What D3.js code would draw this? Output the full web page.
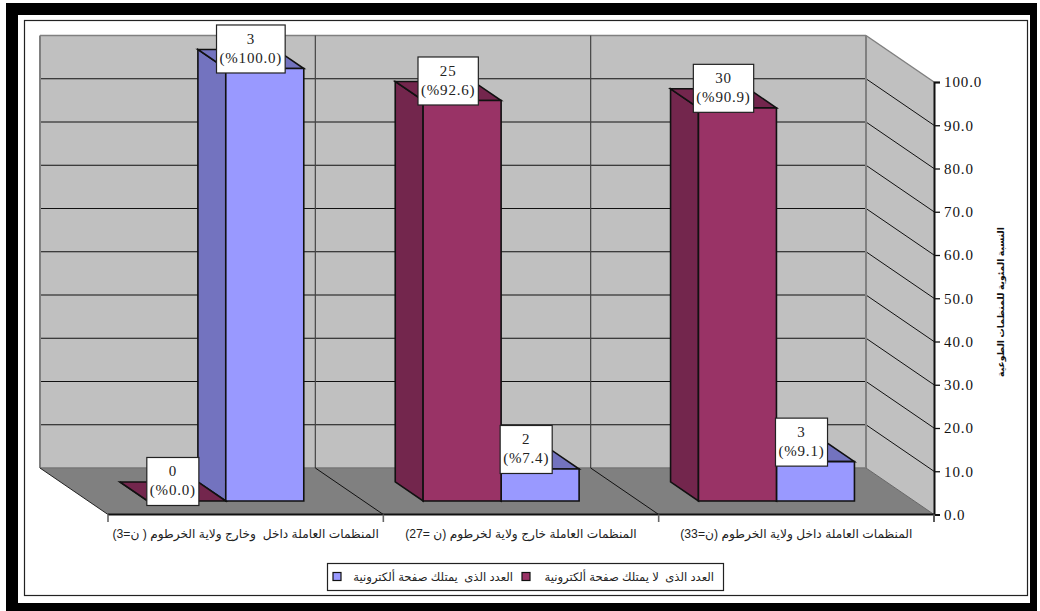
<!DOCTYPE html>
<html><head><meta charset="utf-8">
<script src="https://cdnjs.cloudflare.com/ajax/libs/d3/7.8.5/d3.min.js"></script>
<style>html,body{margin:0;padding:0;background:#fff;overflow:hidden}svg{display:block}.ar{white-space:pre}</style>
</head><body><svg id="c" width="1040" height="611"></svg>
<script>
const categories = ["المنظمات العاملة داخل  وخارج ولاية الخرطوم ( ن=3)","المنظمات العاملة خارج ولاية لخرطوم (ن =27)","المنظمات العاملة داخل ولاية الخرطوم (ن=33)"];
const seriesNames = ["العدد الذى  لا يمتلك صفحة ألكترونية","العدد الذى  يمتلك صفحة ألكترونية"];
const notOwningCount = [0,25,30];
const notOwningPct = [0,92.6,90.9];
const owningCount = [3,2,3];
const owningPct = [100,7.4,9.1];
const yTicks = [0,10,20,30,40,50,60,70,80,90,100];
const yTitle = "النسبة المئوية للمنظمات الطوعية";

const svg = d3.select("#c");
const serif = "'Liberation Serif','Times New Roman',serif";
const sans = "'Liberation Sans','DejaVu Sans',sans-serif";
const depthX = 68, depthY = 46.5;
const dFront = 0.29, dBack = 0.70, dMid = (dFront+dBack)/2;
const x0 = d3.scaleBand().domain(categories).range([108,934]);
const x1 = d3.scaleBand().domain([0,1]).range([59.5,215.5]);
const y = d3.scaleLinear().domain([0,100]).range([514.5,82]);
const P = (sx,sy,d)=>[sx-d*depthX, sy-d*depthY];
const line = d3.line();
const poly = (pts,fill,stroke,w)=>svg.append("path").attr("d",line(pts)+"Z").attr("fill",fill).attr("stroke",stroke||"none").attr("stroke-width",w||0).attr("stroke-linejoin","miter");
const seg = (a,b,stroke,w)=>svg.append("line").attr("x1",a[0]).attr("y1",a[1]).attr("x2",b[0]).attr("y2",b[1]).attr("stroke",stroke).attr("stroke-width",w);

// outer frame
svg.append("path").attr("fill","#000").attr("fill-rule","evenodd").attr("d","M6 3H1037V611H6ZM18 15V603H1030V15Z");
svg.append("rect").attr("x",24.5).attr("y",20.5).attr("width",1003).attr("height",575).attr("fill","#fff").attr("stroke","#222").attr("stroke-width",1.2);

const xL=x0.range()[0], xR=x0.range()[1], y0=y(0), yT=y(100);
// walls and floor
poly([P(xL,yT,1),P(xR,yT,1),P(xR,y0,1),P(xL,y0,1)],"#C0C0C0");
poly([P(xR,yT,1),[xR,yT],[xR,y0],P(xR,y0,1)],"#C0C0C0");
poly([P(xL,y0,1),P(xR,y0,1),[xR,y0],[xL,y0]],"#808080");
// gridlines
yTicks.filter(t=>t>0&&t<100).forEach(t=>{
  seg(P(xL,y(t),1),P(xR,y(t),1),"#111",1.1);
  seg(P(xR,y(t),1),[xR,y(t)],"#111",1);
});
// wall edges
seg(P(xL,yT,1),P(xR,yT,1),"#808080",1.5);
seg(P(xL,yT,1),P(xL,y0,1),"#808080",2);
seg(P(xR,yT,1),[xR,yT],"#808080",1.5);
seg(P(xL,y0,1),P(xR,y0,1),"#777",1.5);
seg(P(xR,yT,1),P(xR,y0,1),"#808080",2);
seg(P(xR,y0,1),[xR,y0],"#666",1);
seg(P(xL,y0,1),[xL,y0],"#222",1);
// category dividers
categories.slice(1).forEach(c=>{
  const fx=x0(c);
  seg(P(fx,yT,1),P(fx,y0,1),"#444",1.2);
  seg(P(fx,y0,1),[fx,y0],"#111",1);
});
// bars: second series is drawn first so the first series' front face covers it
const seriesStyle=[{f:"#993366",d:"#73264D"},{f:"#9999FF",d:"#7373BF"}];
const rows = categories.map((c,i)=>({c,vals:[notOwningPct[i],owningPct[i]],cnt:[notOwningCount[i],owningCount[i]]}));
const labels=[];
rows.forEach(r=>{
  [1,0].forEach(s=>{
    const v=r.vals[s];
    const a=x0(r.c)+x1(s), b=a+x1.bandwidth(), st=seriesStyle[s], sw=1.6, k="#111";
    const yv=y(v);
    poly([P(a,y0,dFront),P(a,yv,dFront),P(a,yv,dBack),P(a,y0,dBack)],st.d,k,sw);
    poly([P(a,yv,dFront),P(b,yv,dFront),P(b,yv,dBack),P(a,yv,dBack)],st.d,k,sw);
    if(v>0) poly([P(a,y0,dFront),P(b,y0,dFront),P(b,yv,dFront),P(a,yv,dFront)],st.f,k,sw);
    const m=P((a+b)/2,yv,dMid);
    labels.push({cx:m[0],cy:m[1]-10,l1:String(r.cnt[s]),l2:"(%"+d3.format(".1f")(v)+")"});
  });
});
// floor front edge
seg([xL,y0],[xR,y0],"#111",2);
// axes
const yAxis=d3.axisRight(y).tickValues(yTicks).tickFormat(d3.format(".1f")).tickSize(6).tickPadding(4);
const ga=svg.append("g").attr("transform",`translate(${xR},0)`).call(yAxis);
ga.select(".domain").attr("stroke","#111").attr("stroke-width",2);
ga.selectAll("line").attr("stroke","#111").attr("stroke-width",1.3);
ga.selectAll("text").attr("font-family",serif).attr("font-size",15).attr("letter-spacing",0.9).attr("fill","#111").attr("direction","ltr");
seg([xR,y0],[xR,522],"#333",2);
x0.domain().concat(["end"]).forEach((c,i)=>{const fx=xL+i*x0.bandwidth(); seg([fx,y0],[fx,522],"#666",1.6);});
svg.append("g").selectAll("text").data(categories).join("text").attr("class","ar")
  .attr("x",c=>x0(c)+x0.bandwidth()/2).attr("y",538).attr("text-anchor","middle").attr("direction","rtl")
  .attr("font-family",sans).attr("font-size",12.2).attr("fill","#222").text(c=>c);
// y title
svg.append("text").attr("transform","translate(1004,302) rotate(-90)").attr("text-anchor","middle").attr("direction","rtl")
  .attr("font-family",sans).attr("font-size",9.2).attr("font-weight","bold").attr("fill","#111").text(yTitle);
// data labels
labels.forEach(d=>{
  const g=svg.append("g");
  const r=g.append("rect");
  const t1=g.append("text").attr("x",d.cx).attr("y",d.cy-5).attr("text-anchor","middle").text(d.l1);
  const t2=g.append("text").attr("x",d.cx).attr("y",d.cy+14).attr("text-anchor","middle").attr("direction","ltr").text(d.l2);
  g.selectAll("text").attr("font-family",serif).attr("font-size",15).attr("letter-spacing",0.8).attr("fill","#222");
  const w=t2.node().getComputedTextLength()+6;
  r.attr("x",d.cx-w/2).attr("y",d.cy-24).attr("width",w).attr("height",48).attr("fill","#fff").attr("stroke","#222").attr("stroke-width",1.2);
});
// legend
svg.append("rect").attr("x",327.5).attr("y",563.5).attr("width",396).attr("height",27).attr("fill","#fff").attr("stroke","#222").attr("stroke-width",1.2);
const legendItems=[{s:1,sx:333,tx:513},{s:0,sx:522,tx:714}];
legendItems.forEach(it=>{
  svg.append("rect").attr("x",it.sx).attr("y",572.5).attr("width",8).attr("height",8).attr("fill",seriesStyle[it.s].f).attr("stroke","#111").attr("stroke-width",1.2);
  svg.append("text").attr("class","ar").attr("x",it.tx).attr("y",581).attr("text-anchor","start").attr("direction","rtl").attr("font-family",sans).attr("font-size",11.6).attr("fill","#222").text(seriesNames[it.s]);
});
</script></body></html>
